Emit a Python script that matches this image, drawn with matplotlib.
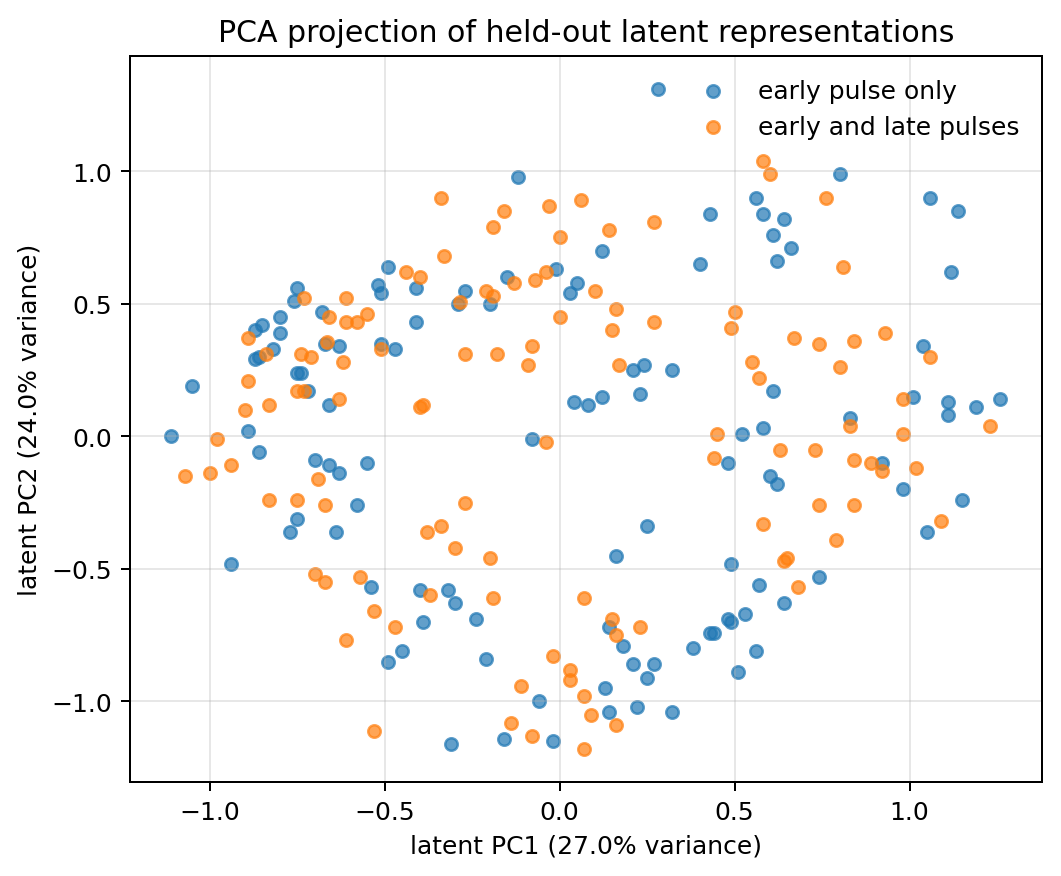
import matplotlib
matplotlib.use("Agg")
import matplotlib.pyplot as plt
import numpy as np

# early pulse only
early_x = [-1.11, -1.05, -0.94, -0.89, -0.87, -0.86, -0.87, -0.85, -0.86, -0.82,
           -0.80, -0.80, -0.76, -0.75, -0.75, -0.74, -0.72, -0.68, -0.67, -0.63,
           -0.66, -0.70, -0.66, -0.63, -0.75, -0.77, -0.64, -0.58, -0.55, -0.54,
           -0.49, -0.45, -0.40, -0.39, -0.32, -0.30, -0.24, -0.31, -0.21, -0.16,
           -0.06, -0.02, -0.08, 0.04, -0.51, -0.47, -0.41, -0.52, -0.51, -0.49,
           -0.41, -0.29, -0.27, -0.20, -0.15, -0.12, -0.01, 0.03, 0.05, 0.12,
           0.28, 0.40, 0.43, 0.56, 0.58, 0.64, 0.61, 0.66, 0.62, 0.08,
           0.12, 0.23, 0.21, 0.24, 0.32, 0.61, 0.58, 0.52, 0.48, 0.60,
           0.62, 0.25, 0.80, 1.06, 1.14, 1.12, 1.04, 1.01, 1.11, 1.11,
           1.19, 1.26, 0.83, 0.92, 0.98, 1.15, 1.05, 0.74, 0.16, 0.49,
           0.14, 0.18, 0.21, 0.27, 0.25, 0.13, 0.14, 0.22, 0.32, 0.38,
           0.43, 0.44, 0.48, 0.49, 0.53, 0.57, 0.64, 0.56, 0.51]
early_y = [0.00, 0.19, -0.48, 0.02, 0.29, 0.30, 0.40, 0.42, -0.06, 0.33,
           0.39, 0.45, 0.51, 0.56, 0.24, 0.24, 0.17, 0.47, 0.35, 0.34,
           0.12, -0.09, -0.11, -0.14, -0.31, -0.36, -0.36, -0.26, -0.10, -0.57,
           -0.85, -0.81, -0.58, -0.70, -0.58, -0.63, -0.69, -1.16, -0.84, -1.14,
           -1.00, -1.15, -0.01, 0.13, 0.35, 0.33, 0.43, 0.57, 0.54, 0.64,
           0.56, 0.50, 0.55, 0.50, 0.60, 0.98, 0.63, 0.54, 0.58, 0.70,
           1.31, 0.65, 0.84, 0.90, 0.84, 0.82, 0.76, 0.71, 0.66, 0.12,
           0.15, 0.16, 0.25, 0.27, 0.25, 0.17, 0.03, 0.01, -0.10, -0.15,
           -0.18, -0.34, 0.99, 0.90, 0.85, 0.62, 0.34, 0.15, 0.13, 0.08,
           0.11, 0.14, 0.07, -0.10, -0.20, -0.24, -0.36, -0.53, -0.45, -0.48,
           -0.72, -0.79, -0.86, -0.86, -0.91, -0.95, -1.04, -1.02, -1.04, -0.80,
           -0.74, -0.74, -0.69, -0.70, -0.67, -0.56, -0.63, -0.81, -0.89]

# early and late pulses
late_x = [-0.73, -0.61, -0.66, -0.61, -0.58, -0.89, -0.84, -0.74, -0.71, -0.62,
          -0.665, -0.89, -0.75, -0.73, -0.83, -0.90, -0.63, -0.98, -0.94, -1.00,
          -1.07, -0.69, -0.83, -0.75, -0.67, -0.70, -0.67, -0.61, -0.57, -0.34,
          -0.16, -0.19, -0.03, 0.00, 0.06, -0.33, -0.44, -0.40, -0.21, -0.19,
          -0.13, -0.07, -0.04, -0.285, -0.55, -0.51, -0.27, -0.18, -0.08, -0.09,
          0.00, -0.40, -0.39, -0.04, -0.27, -0.38, -0.34, 0.58, 0.60, 0.14,
          0.27, 0.10, 0.76, 0.81, 0.16, 0.15, 0.27, 0.50, 0.49, 0.67,
          0.17, 0.55, 0.57, 0.45, 0.44, 0.63, 0.58, 0.74, 0.84, 0.93,
          0.80, 1.06, 0.98, 1.23, 0.83, 0.98, 0.73, 0.84, 0.89, 0.92,
          1.02, 0.74, 0.84, 1.09, 0.79, -0.30, -0.20, -0.37, -0.19, -0.53,
          -0.47, -0.02, 0.03, 0.03, -0.11, 0.07, -0.53, -0.14, -0.08, 0.07,
          0.07, 0.15, 0.16, 0.23, 0.09, 0.16, 0.64, 0.65, 0.68]
late_y = [0.52, 0.52, 0.45, 0.43, 0.43, 0.37, 0.31, 0.31, 0.30, 0.28,
          0.355, 0.21, 0.17, 0.17, 0.12, 0.10, 0.14, -0.01, -0.11, -0.14,
          -0.15, -0.16, -0.24, -0.24, -0.26, -0.52, -0.55, -0.77, -0.53, 0.90,
          0.85, 0.79, 0.87, 0.75, 0.89, 0.68, 0.62, 0.60, 0.55, 0.53,
          0.58, 0.59, 0.62, 0.505, 0.46, 0.33, 0.31, 0.31, 0.34, 0.27,
          0.45, 0.11, 0.12, -0.02, -0.25, -0.36, -0.34, 1.04, 0.99, 0.78,
          0.81, 0.55, 0.90, 0.64, 0.48, 0.40, 0.43, 0.47, 0.41, 0.37,
          0.27, 0.28, 0.22, 0.01, -0.08, -0.05, -0.33, 0.35, 0.36, 0.39,
          0.26, 0.30, 0.14, 0.04, 0.04, 0.01, -0.05, -0.09, -0.10, -0.13,
          -0.12, -0.26, -0.26, -0.32, -0.39, -0.42, -0.46, -0.60, -0.61, -0.66,
          -0.72, -0.83, -0.88, -0.92, -0.94, -0.98, -1.11, -1.08, -1.13, -1.18,
          -0.61, -0.69, -0.75, -0.72, -1.05, -1.09, -0.47, -0.46, -0.57]

fig, ax = plt.subplots(figsize=(1061 / 180, 877 / 180), dpi=180)
fig.subplots_adjust(left=0.1225, right=0.982, top=0.935, bottom=0.107)

ax.scatter(early_x, early_y, s=25, alpha=0.7, color="tab:blue", label="early pulse only")
ax.scatter(late_x, late_y, s=25, alpha=0.7, color="tab:orange", label="early and late pulses")

ax.set_xlabel("latent PC1 (27.0% variance)")
ax.set_ylabel("latent PC2 (24.0% variance)")
ax.set_title("PCA projection of held-out latent representations")
ax.grid(alpha=0.3)
ax.legend(frameon=False, loc="upper right")

fig.savefig("out.png", dpi=180)
